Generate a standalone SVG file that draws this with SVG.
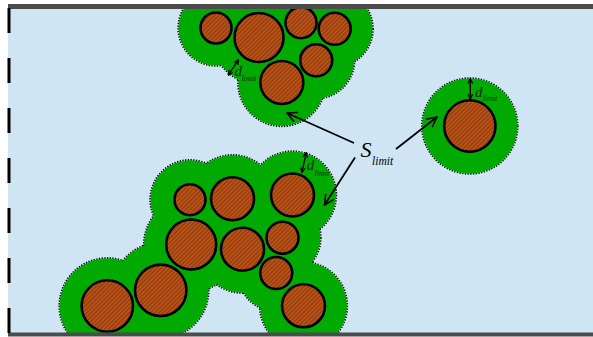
<svg xmlns="http://www.w3.org/2000/svg" width="593" height="337" viewBox="0 0 593 337">
<defs>
  <pattern id="hatch" patternUnits="userSpaceOnUse" width="3" height="3" patternTransform="rotate(45)">
    <rect width="3" height="3" fill="#bd5418"/>
    <rect width="1.2" height="3" fill="#8c3a0e"/>
  </pattern>
  <clipPath id="panel"><rect x="8" y="8" width="585" height="325"/></clipPath>
  <marker id="open" viewBox="0 0 12 12" refX="11" refY="6" markerWidth="12" markerHeight="12" markerUnits="userSpaceOnUse" orient="auto">
    <path d="M1,1 L11,6 L1,11" fill="none" stroke="#000" stroke-width="1.5"/>
  </marker>
  <marker id="small" viewBox="0 0 8 8" refX="7.5" refY="4" markerWidth="6" markerHeight="6" markerUnits="userSpaceOnUse" orient="auto-start-reverse">
    <path d="M1,1 L7.5,4 L1,7" fill="none" stroke="#000" stroke-width="1.6"/>
  </marker>
</defs>
<style>
  .halo-line { fill: none; stroke: #000; stroke-width: 2.4; stroke-dasharray: 1.3 1.4; }
  .halo { fill: #00aa00; }
  .particle { fill: url(#hatch); stroke: #000; stroke-width: 2.6; }
  .conn { stroke: #000; stroke-width: 1.8; fill: none; }
  .dim { stroke: #000; stroke-width: 1.4; fill: none; }
  .lbl { font-family: "Liberation Serif", "DejaVu Serif", serif; font-style: italic; }
  .dlab { fill: #0a2a0a; }
</style>

<rect x="8" y="6" width="585" height="329" fill="#cfe5f3"/>

<g clip-path="url(#panel)">
  <g id="cluster-top">
    <g class="halo-line">
      <circle cx="216" cy="28" r="37.5"/>
      <circle cx="259" cy="37.5" r="46.5"/>
      <circle cx="301" cy="22.7" r="37.5"/>
      <circle cx="334.7" cy="28.8" r="38"/>
      <circle cx="316.2" cy="60.3" r="38"/>
      <circle cx="281.8" cy="82.5" r="43.5"/>
    </g>
    <g class="halo">
      <circle cx="216" cy="28" r="37.5"/>
      <circle cx="259" cy="37.5" r="46.5"/>
      <circle cx="301" cy="22.7" r="37.5"/>
      <circle cx="334.7" cy="28.8" r="38"/>
      <circle cx="316.2" cy="60.3" r="38"/>
      <circle cx="281.8" cy="82.5" r="43.5"/>
    </g>
    <g class="particle">
      <circle cx="216" cy="28" r="15.5"/>
      <circle cx="259" cy="37.5" r="24.5"/>
      <circle cx="301" cy="22.7" r="15.5"/>
      <circle cx="334.7" cy="28.8" r="16"/>
      <circle cx="316.2" cy="60.3" r="16"/>
      <circle cx="281.8" cy="82.5" r="21.5"/>
    </g>
  </g>

  <g id="cluster-bottom">
    <g class="halo-line">
      <circle cx="190" cy="199.7" r="39.5"/>
      <circle cx="232.5" cy="198.7" r="43.5"/>
      <circle cx="292.5" cy="195" r="43.5"/>
      <circle cx="191.2" cy="244.5" r="47"/>
      <circle cx="242.5" cy="249.2" r="43.5"/>
      <circle cx="282.5" cy="237.7" r="38"/>
      <circle cx="276.2" cy="273" r="38"/>
      <circle cx="160.7" cy="290.3" r="47.7"/>
      <circle cx="107.3" cy="306" r="47.7"/>
      <circle cx="303.5" cy="305.8" r="43.5"/>
    </g>
    <g class="halo">
      <circle cx="190" cy="199.7" r="39.5"/>
      <circle cx="232.5" cy="198.7" r="43.5"/>
      <circle cx="292.5" cy="195" r="43.5"/>
      <circle cx="191.2" cy="244.5" r="47"/>
      <circle cx="242.5" cy="249.2" r="43.5"/>
      <circle cx="282.5" cy="237.7" r="38"/>
      <circle cx="276.2" cy="273" r="38"/>
      <circle cx="160.7" cy="290.3" r="47.7"/>
      <circle cx="107.3" cy="306" r="47.7"/>
      <circle cx="303.5" cy="305.8" r="43.5"/>
    </g>
    <g class="particle">
      <circle cx="190" cy="199.7" r="15.5"/>
      <circle cx="232.5" cy="198.7" r="21.5"/>
      <circle cx="292.5" cy="195" r="21.5"/>
      <circle cx="191.2" cy="244.5" r="25"/>
      <circle cx="242.5" cy="249.2" r="21.5"/>
      <circle cx="282.5" cy="237.7" r="16"/>
      <circle cx="276.2" cy="273" r="16"/>
      <circle cx="160.7" cy="290.3" r="25.7"/>
      <circle cx="107.3" cy="306" r="25.7"/>
      <circle cx="303.5" cy="305.8" r="21.5"/>
    </g>
  </g>

  <g id="particle-right">
    <circle class="halo-line" cx="469.8" cy="126" r="47.6"/>
    <circle class="halo" cx="469.8" cy="126" r="47.6"/>
    <circle class="particle" cx="469.8" cy="126" r="25.7"/>
  </g>
</g>

<g id="walls">
  <rect x="8" y="4" width="585" height="5" fill="#4b4b4b"/>
  <rect x="8" y="332.5" width="585" height="4" fill="#4b4b4b"/>
  <line x1="9" y1="8" x2="9" y2="336" stroke="#000" stroke-width="3" stroke-dasharray="25 25"/>
</g>

<g id="connectors">
  <line class="conn" x1="354" y1="143" x2="287" y2="113" marker-end="url(#open)"/>
  <line class="conn" x1="396" y1="149" x2="437" y2="117" marker-end="url(#open)"/>
  <line class="conn" x1="355" y1="157.5" x2="324.5" y2="205" marker-end="url(#open)"/>
  <line class="dim" x1="238.6" y1="59.6" x2="228.2" y2="75.2" marker-start="url(#small)" marker-end="url(#small)"/>
  <line class="dim" x1="470.3" y1="78.5" x2="470.3" y2="99.2" marker-start="url(#small)" marker-end="url(#small)"/>
  <line class="dim" x1="306.3" y1="152.6" x2="301.8" y2="172.6" marker-start="url(#small)" marker-end="url(#small)"/>
</g>

<g id="labels">
  <text class="lbl" x="360.5" y="157" font-size="22">S</text>
  <text class="lbl" x="372" y="165" font-size="11.5">limit</text>
  <text class="lbl dlab" x="234.5" y="75.5" font-size="15">d</text>
  <text class="lbl dlab" x="241.5" y="81.2" font-size="8">limit</text>
  <text class="lbl dlab" x="475" y="96.5" font-size="15">d</text>
  <text class="lbl dlab" x="482.5" y="101.2" font-size="8">limit</text>
  <text class="lbl dlab" x="306.8" y="170" font-size="15">d</text>
  <text class="lbl dlab" x="314.5" y="175.5" font-size="8">limit</text>
</g>
</svg>
